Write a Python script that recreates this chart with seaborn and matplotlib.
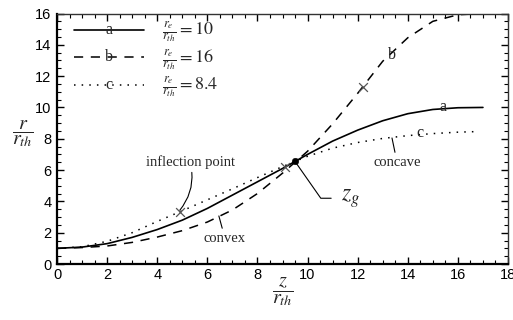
import numpy as np
import pandas as pd
import seaborn as sns
import matplotlib
matplotlib.use("Agg")
import matplotlib.pyplot as plt
import matplotlib.text as mtext
from matplotlib.legend_handler import HandlerLine2D
from matplotlib.ticker import MultipleLocator

# Wall contours r/r_th versus z/r_th for three exit-radius ratios
z_a = [0, 1, 2, 3, 4, 5, 6, 7, 8, 9, 10, 11, 12, 13, 14, 15, 16, 17]
r_a = [1.0, 1.08, 1.3, 1.7, 2.2, 2.8, 3.55, 4.4, 5.25, 6.1, 7.0, 7.85, 8.55,
       9.15, 9.6, 9.87, 9.98, 10.0]

z_b = [0, 1, 2, 3, 4, 5, 6, 7, 8, 9, 10, 11, 12, 13, 14, 15, 16, 17]
r_b = [1.0, 1.05, 1.15, 1.38, 1.72, 2.13, 2.68, 3.45, 4.5, 5.8, 7.2, 8.95,
       10.9, 12.95, 14.45, 15.5, 15.92, 16.0]

z_c = [0, 1, 2, 3, 4, 5, 6, 7, 8, 9, 10, 11, 12, 13, 14, 15, 16, 16.8]
r_c = [1.0, 1.1, 1.45, 2.0, 2.72, 3.4, 4.1, 4.8, 5.52, 6.22, 6.88, 7.4, 7.76,
       8.02, 8.2, 8.33, 8.42, 8.46]

curve_names = ["a", "b", "c"]
ratio_labels = ["10", "16", "8.4"]

# inflection points (c, a, b) and the common point z_g
infl_z = [4.9, 9.1, 12.2]
infl_r = [3.33, 6.19, 11.31]
zg_z = [9.5]
zg_r = [6.55]

sns.set_theme(style="ticks")
plt.rcParams["font.family"] = ["Liberation Sans", "DejaVu Sans"]
plt.rcParams["mathtext.fontset"] = "stix"
SERIF = ["Liberation Serif", "DejaVu Serif"]

fig = plt.figure(figsize=(5.13, 3.2), dpi=100)
ax = fig.add_axes([57 / 513, 56 / 320, 451 / 513, 250.5 / 320])

df = pd.concat([
    pd.DataFrame({"z": z_a, "r": r_a, "curve": "a"}),
    pd.DataFrame({"z": z_b, "r": r_b, "curve": "b"}),
    pd.DataFrame({"z": z_c, "r": r_c, "curve": "c"}),
])

styles = {
    "a": dict(linestyle="-", linewidth=1.2),
    "b": dict(linestyle=(0, (6, 5)), linewidth=1.1),
    "c": dict(linestyle=(0, (1, 4)), linewidth=1.1),
}
handles = []
for name in curve_names:
    sub = df[df["curve"] == name]
    sns.lineplot(data=sub, x="z", y="r", ax=ax, color="black", sort=False,
                 estimator=None, legend=False, **styles[name])
    handles.append(ax.lines[-1])

# inflection markers and z_g point
sns.scatterplot(x=infl_z, y=infl_r, ax=ax, marker="x", s=40, color="#555555",
                linewidth=0.9, zorder=5, legend=False)
sns.scatterplot(x=zg_z, y=zg_r, ax=ax, marker="o", s=22, color="black",
                edgecolor="black", zorder=6, legend=False)

ax.set_xlim(0, 18)
ax.set_ylim(0, 16)
ax.xaxis.set_major_locator(MultipleLocator(2))
ax.xaxis.set_minor_locator(MultipleLocator(0.5))
ax.yaxis.set_major_locator(MultipleLocator(2))
ax.yaxis.set_minor_locator(MultipleLocator(0.5))
ax.tick_params(which="both", direction="in", top=True, right=True,
               color="black", labelsize=10.5, labelcolor="black")
ax.tick_params(which="major", length=5, width=1.0)
ax.tick_params(which="minor", length=3, width=0.8)
ax.tick_params(axis="x", pad=3)
ax.tick_params(axis="y", pad=4)
for side in ["left", "bottom"]:
    ax.spines[side].set_linewidth(1.6)
    ax.spines[side].set_color("black")
for side in ["top", "right"]:
    ax.spines[side].set_linewidth(1.0)
    ax.spines[side].set_color("#333333")

ax.set_xlabel(r"$\dfrac{z}{r_{th}}$", fontsize=14.5, va="center")
ax.xaxis.set_label_coords(0.5, -0.108)
ax.set_ylabel(r"$\dfrac{r}{r_{th}}$", fontsize=14.5, rotation=0, va="center")
ax.yaxis.set_label_coords(-0.076, 0.52)


class LetterLine(HandlerLine2D):
    def __init__(self, letter, **kw):
        super().__init__(**kw)
        self.letter = letter

    def create_artists(self, legend, orig_handle, xdescent, ydescent, width,
                       height, fontsize, trans):
        arts = super().create_artists(legend, orig_handle, xdescent, ydescent,
                                      width, height, fontsize, trans)
        t = mtext.Text(width / 2 - xdescent, (height - ydescent) / 2,
                       self.letter, ha="center", va="center",
                       fontsize=11.5, family=SERIF, transform=trans)
        return list(arts) + [t]


labels = [r"$\frac{r_e}{r_{th}} = %s$" % v for v in ratio_labels]
ax.legend(handles, labels, loc="upper left",
          bbox_to_anchor=(12 / 451, 1 - 2 / 250.5),
          frameon=False, fontsize=13, handlelength=3.9, handletextpad=1.0,
          labelspacing=0.14, borderaxespad=0.0, borderpad=0.25,
          handler_map={h: LetterLine(n) for h, n in zip(handles, curve_names)})

# curve letters
ax.text(15.4, 10.0, "a", family=SERIF, fontsize=11.5, ha="center", va="center")
ax.text(13.37, 13.35, "b", family=SERIF, fontsize=11.5, ha="center", va="center")
ax.text(14.49, 8.37, "c", family=SERIF, fontsize=11.5, ha="center", va="center")

line_kw = dict(arrowstyle="-", color="black", lw=0.8, shrinkA=0, shrinkB=0)
ax.annotate("inflection point", xy=(infl_z[0], infl_r[0] + 0.1),
            xytext=(5.31, 6.5), family=SERIF, fontsize=10.5, ha="center",
            va="center",
            arrowprops=dict(connectionstyle="arc3,rad=-0.25", **line_kw))
ax.annotate("convex", xy=(6.46, 3.07), xytext=(6.7, 1.66), family=SERIF,
            fontsize=10.5, ha="center", va="center",
            arrowprops=dict(**line_kw))
ax.annotate("concave", xy=(13.37, 8.05), xytext=(13.57, 6.51), family=SERIF,
            fontsize=10.5, ha="center", va="center",
            arrowprops=dict(**line_kw))
ax.annotate(r"$z_g$", xy=(zg_z[0], zg_r[0]), xytext=(11.35, 4.2),
            fontsize=17, ha="left", va="center",
            arrowprops=dict(arrowstyle="-", color="black", lw=0.8, shrinkA=5,
                            shrinkB=0,
                            connectionstyle="angle,angleA=0,angleB=-55,rad=0"))

fig.savefig("out.png", dpi=100)
